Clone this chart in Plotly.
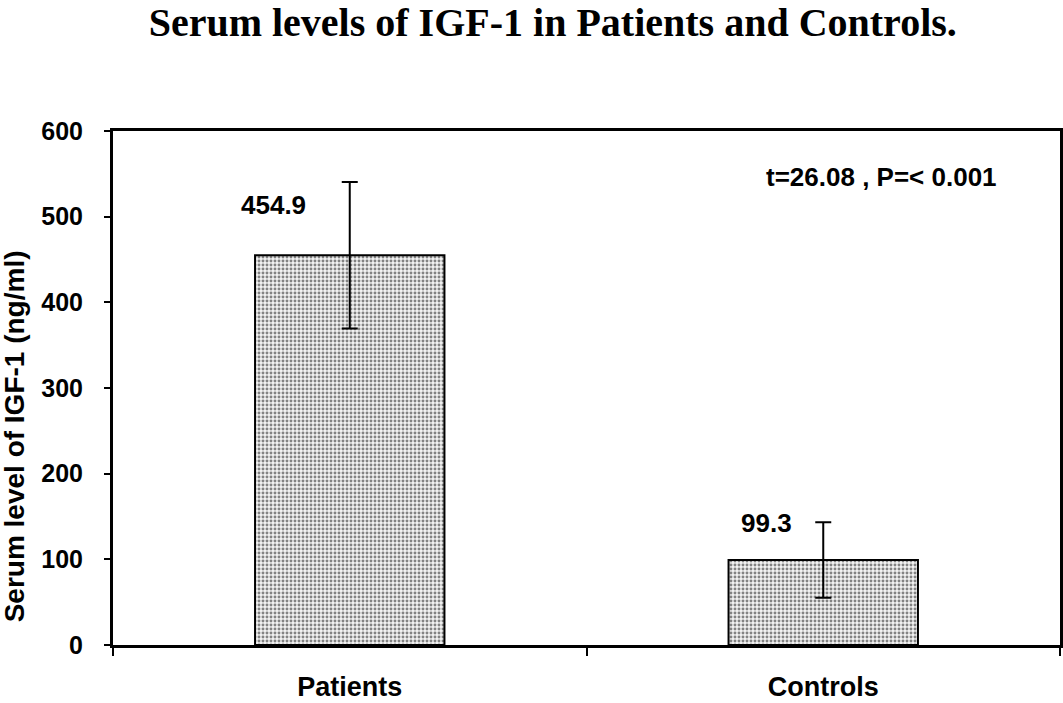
import plotly.graph_objects as go

categories = ["Patients", "Controls"]
means = [454.9, 99.3]
sds = [85.5, 44.0]
mean_labels = ["454.9", "99.3"]
y_ticks = [0, 100, 200, 300, 400, 500, 600]
stat_text = "t=26.08 , P=< 0.001"
title_text = "Serum levels of IGF-1 in Patients and Controls."
y_title = "Serum level of IGF-1 (ng/ml)"

label_xshift = [-76, -57]
label_yshift = [50, 37]

FONT = "Arial, Liberation Sans"

fig = go.Figure()
fig.add_trace(go.Bar(
    x=categories, y=means,
    width=0.4,
    marker=dict(
        color="white",
        line=dict(color="black", width=2),
        pattern=dict(shape=".", fgcolor="#111111", bgcolor="#f2f2f2", size=4, solidity=0.42),
    ),
    error_y=dict(type="data", array=sds, visible=True, color="black", thickness=2, width=8),
))

for c, v, t, dx, dy in zip(categories, means, mean_labels, label_xshift, label_yshift):
    fig.add_annotation(x=c, y=v, text="<b>" + t + "</b>", showarrow=False, xshift=dx, yshift=dy,
                       font=dict(family=FONT, size=26, color="black"),
                       xanchor="center", yanchor="middle")

fig.add_annotation(xref="paper", yref="paper", x=0.812, y=0.911, text="<b>" + stat_text + "</b>",
                   showarrow=False, font=dict(family=FONT, size=26, color="black"),
                   xanchor="center", yanchor="middle")

# y-axis title placed as a rotated annotation (sits lower than axis centre in the reference)
fig.add_annotation(xref="paper", yref="paper", x=-0.104, y=0.405, text="<b>" + y_title + "</b>",
                   textangle=-90, showarrow=False, font=dict(family=FONT, size=28, color="black"),
                   xanchor="center", yanchor="middle")

fig.update_layout(
    width=1063, height=703,
    margin=dict(l=113, r=3, t=131, b=58, autoexpand=False),
    paper_bgcolor="white", plot_bgcolor="white",
    showlegend=False,
    font=dict(family=FONT, color="black"),
    title=dict(text="<b>" + title_text + "</b>", x=0.52, xanchor="center", y=0.969, yref="container",
               yanchor="middle", font=dict(family="Liberation Serif, Times New Roman", size=40, color="black")),
)
fig.update_xaxes(
    type="category", showline=True, linecolor="black", linewidth=3, mirror=True,
    ticks="outside", tickson="boundaries", ticklen=8, tickwidth=2, tickcolor="black",
    ticklabelstandoff=16, automargin=False,
    tickfont=dict(family=FONT, size=27, color="black"),
    tickvals=categories, ticktext=["<b>" + c + "</b>" for c in categories],
    showgrid=False, range=[-0.5, 1.5],
)
fig.update_yaxes(
    range=[0, 600], tickvals=y_ticks, ticktext=["<b>%d</b>" % t for t in y_ticks],
    showline=True, linecolor="black", linewidth=3, mirror=True,
    ticks="outside", ticklen=6, tickwidth=2, tickcolor="black",
    ticklabelstandoff=16, automargin=False,
    tickfont=dict(family=FONT, size=25, color="black"),
    showgrid=False, zeroline=False,
)

fig.write_html("out.html", config={"displayModeBar": False},
               post_script="document.body.style.margin='0px';document.body.style.overflow='hidden';")
